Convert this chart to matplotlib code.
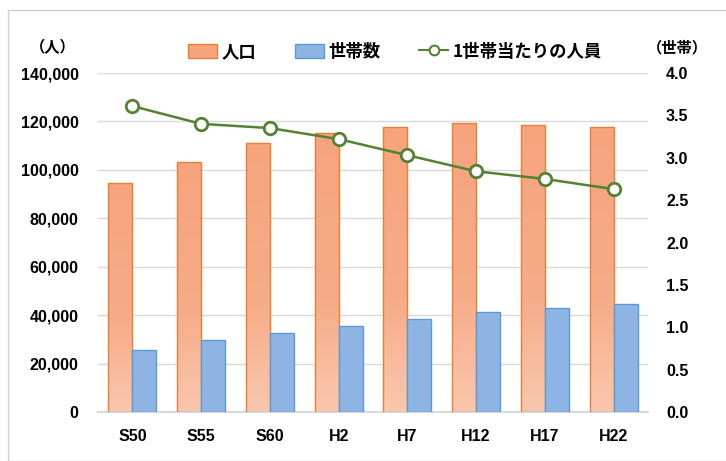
import matplotlib.pyplot as plt
import numpy as np
from matplotlib.patches import Rectangle
from matplotlib.lines import Line2D
from matplotlib.colors import LinearSegmentedColormap

plt.rcParams['font.family'] = ['Noto Sans CJK JP', 'DejaVu Sans']
plt.rcParams['font.weight'] = 'bold'

# Data
years = ['S50', 'S55', 'S60', 'H2', 'H7', 'H12', 'H17', 'H22']
population = [94400, 103200, 111100, 115200, 117700, 119300, 118700, 117700]
households = [25600, 29700, 32600, 35500, 38400, 41300, 42900, 44600]
persons_per_household = [3.61, 3.40, 3.35, 3.22, 3.03, 2.84, 2.75, 2.63]

orange_edge = '#ED7D31'
orange_fill = '#F5A47E'
blue_fill = '#8EB4E3'
blue_edge = '#5B9BD5'
green = '#548235'
grid_color = '#D9D9D9'
tick_font = {'family': ['Liberation Sans', 'DejaVu Sans'], 'weight': 'bold', 'size': 11.5}

fig = plt.figure(figsize = (7.26, 4.61), dpi = 100)
ax1 = fig.add_axes([98 / 726, 49 / 461, 550 / 726, 339 / 461])

x = np.arange(len(years))
width = 0.35

# Population bars with vertical gradient
pop_bars = ax1.bar(x - width / 2, population, width, color = 'none',
                   edgecolor = orange_edge, linewidth = 1.0, zorder = 3)
grad_cmap = LinearSegmentedColormap.from_list('pop', [(0, '#F9C7AE'), (0.4, '#F6AC88'), (1, orange_fill)])
gradient = np.linspace(0, 1, 256).reshape(-1, 1)
for bar in pop_bars:
    bx, by = bar.get_x(), bar.get_y()
    bw, bh = bar.get_width(), bar.get_height()
    img = ax1.imshow(gradient, cmap = grad_cmap, origin = 'lower', aspect = 'auto',
                     extent = [bx, bx + bw, by, by + bh], zorder = 2)
    img.set_clip_path(bar)

ax1.bar(x + width / 2, households, width, color = blue_fill,
        edgecolor = blue_edge, linewidth = 1.0, zorder = 3)

ax1.set_xlim(-0.5, len(years) - 0.5)
ax1.set_ylim(0, 140000)
ax1.set_yticks(np.arange(0, 140001, 20000))
ax1.set_yticklabels([f'{v:,}' for v in range(0, 140001, 20000)], fontdict = tick_font)
ax1.set_xticks(x)
ax1.set_xticklabels(years, fontdict = tick_font)
ax1.tick_params(axis = 'both', length = 0)
ax1.tick_params(axis = 'x', pad = 12)
ax1.tick_params(axis = 'y', pad = 14)
ax1.grid(axis = 'y', color = grid_color, linewidth = 1.0, zorder = 0)
ax1.set_axisbelow(True)
for side in ['top', 'left', 'right']:
    ax1.spines[side].set_visible(False)
ax1.spines['bottom'].set_color(grid_color)
ax1.spines['bottom'].set_linewidth(1.5)

# Persons per household on secondary axis
ax2 = ax1.twinx()
ax2.plot(x, persons_per_household, color = green, linewidth = 1.8, marker = 'o',
         markersize = 9, markerfacecolor = 'white', markeredgecolor = green,
         markeredgewidth = 2, zorder = 5)
ax2.set_ylim(0, 4.0)
ax2.set_yticks(np.arange(0, 4.01, 0.5))
ax2.set_yticklabels([f'{v:.1f}' for v in np.arange(0, 4.01, 0.5)], fontdict = tick_font)
ax2.tick_params(axis = 'y', length = 0, pad = 13)
for side in ['top', 'left', 'right', 'bottom']:
    ax2.spines[side].set_visible(False)

# Unit labels
fig.text(53 / 726, 1 - 47 / 461, '（人）', fontsize = 11, fontweight = 'bold',
         ha = 'center', va = 'center')
fig.text(677 / 726, 1 - 47 / 461, '（世帯）', fontsize = 11, fontweight = 'bold',
         ha = 'center', va = 'center')

# Legend
handles = [
    Rectangle((0, 0), 1, 1, facecolor = orange_fill, edgecolor = orange_edge),
    Rectangle((0, 0), 1, 1, facecolor = blue_fill, edgecolor = blue_edge),
    Line2D([], [], color = green, marker = 'o', markerfacecolor = 'white',
           markeredgecolor = green, markersize = 7, markeredgewidth = 1.5, linewidth = 1.5),
]
labels = ['人口', '世帯数', '1世帯当たりの人員']
fig.legend(handles, labels, loc = 'center', bbox_to_anchor = (395 / 726, 1 - 52 / 461),
           ncol = 3, frameon = False, prop = {'size': 12.5, 'weight': 'bold'},
           handlelength = 1.7, handleheight = 0.9, columnspacing = 2.2, handletextpad = 0.25)

# Outer frame
fig.patches.append(Rectangle((8 / 726, 0), 1, 1 - 10 / 461, transform = fig.transFigure,
                             fill = False, edgecolor = '#D0D0D0', linewidth = 1.0))

fig.savefig('out.png', dpi = 100)
